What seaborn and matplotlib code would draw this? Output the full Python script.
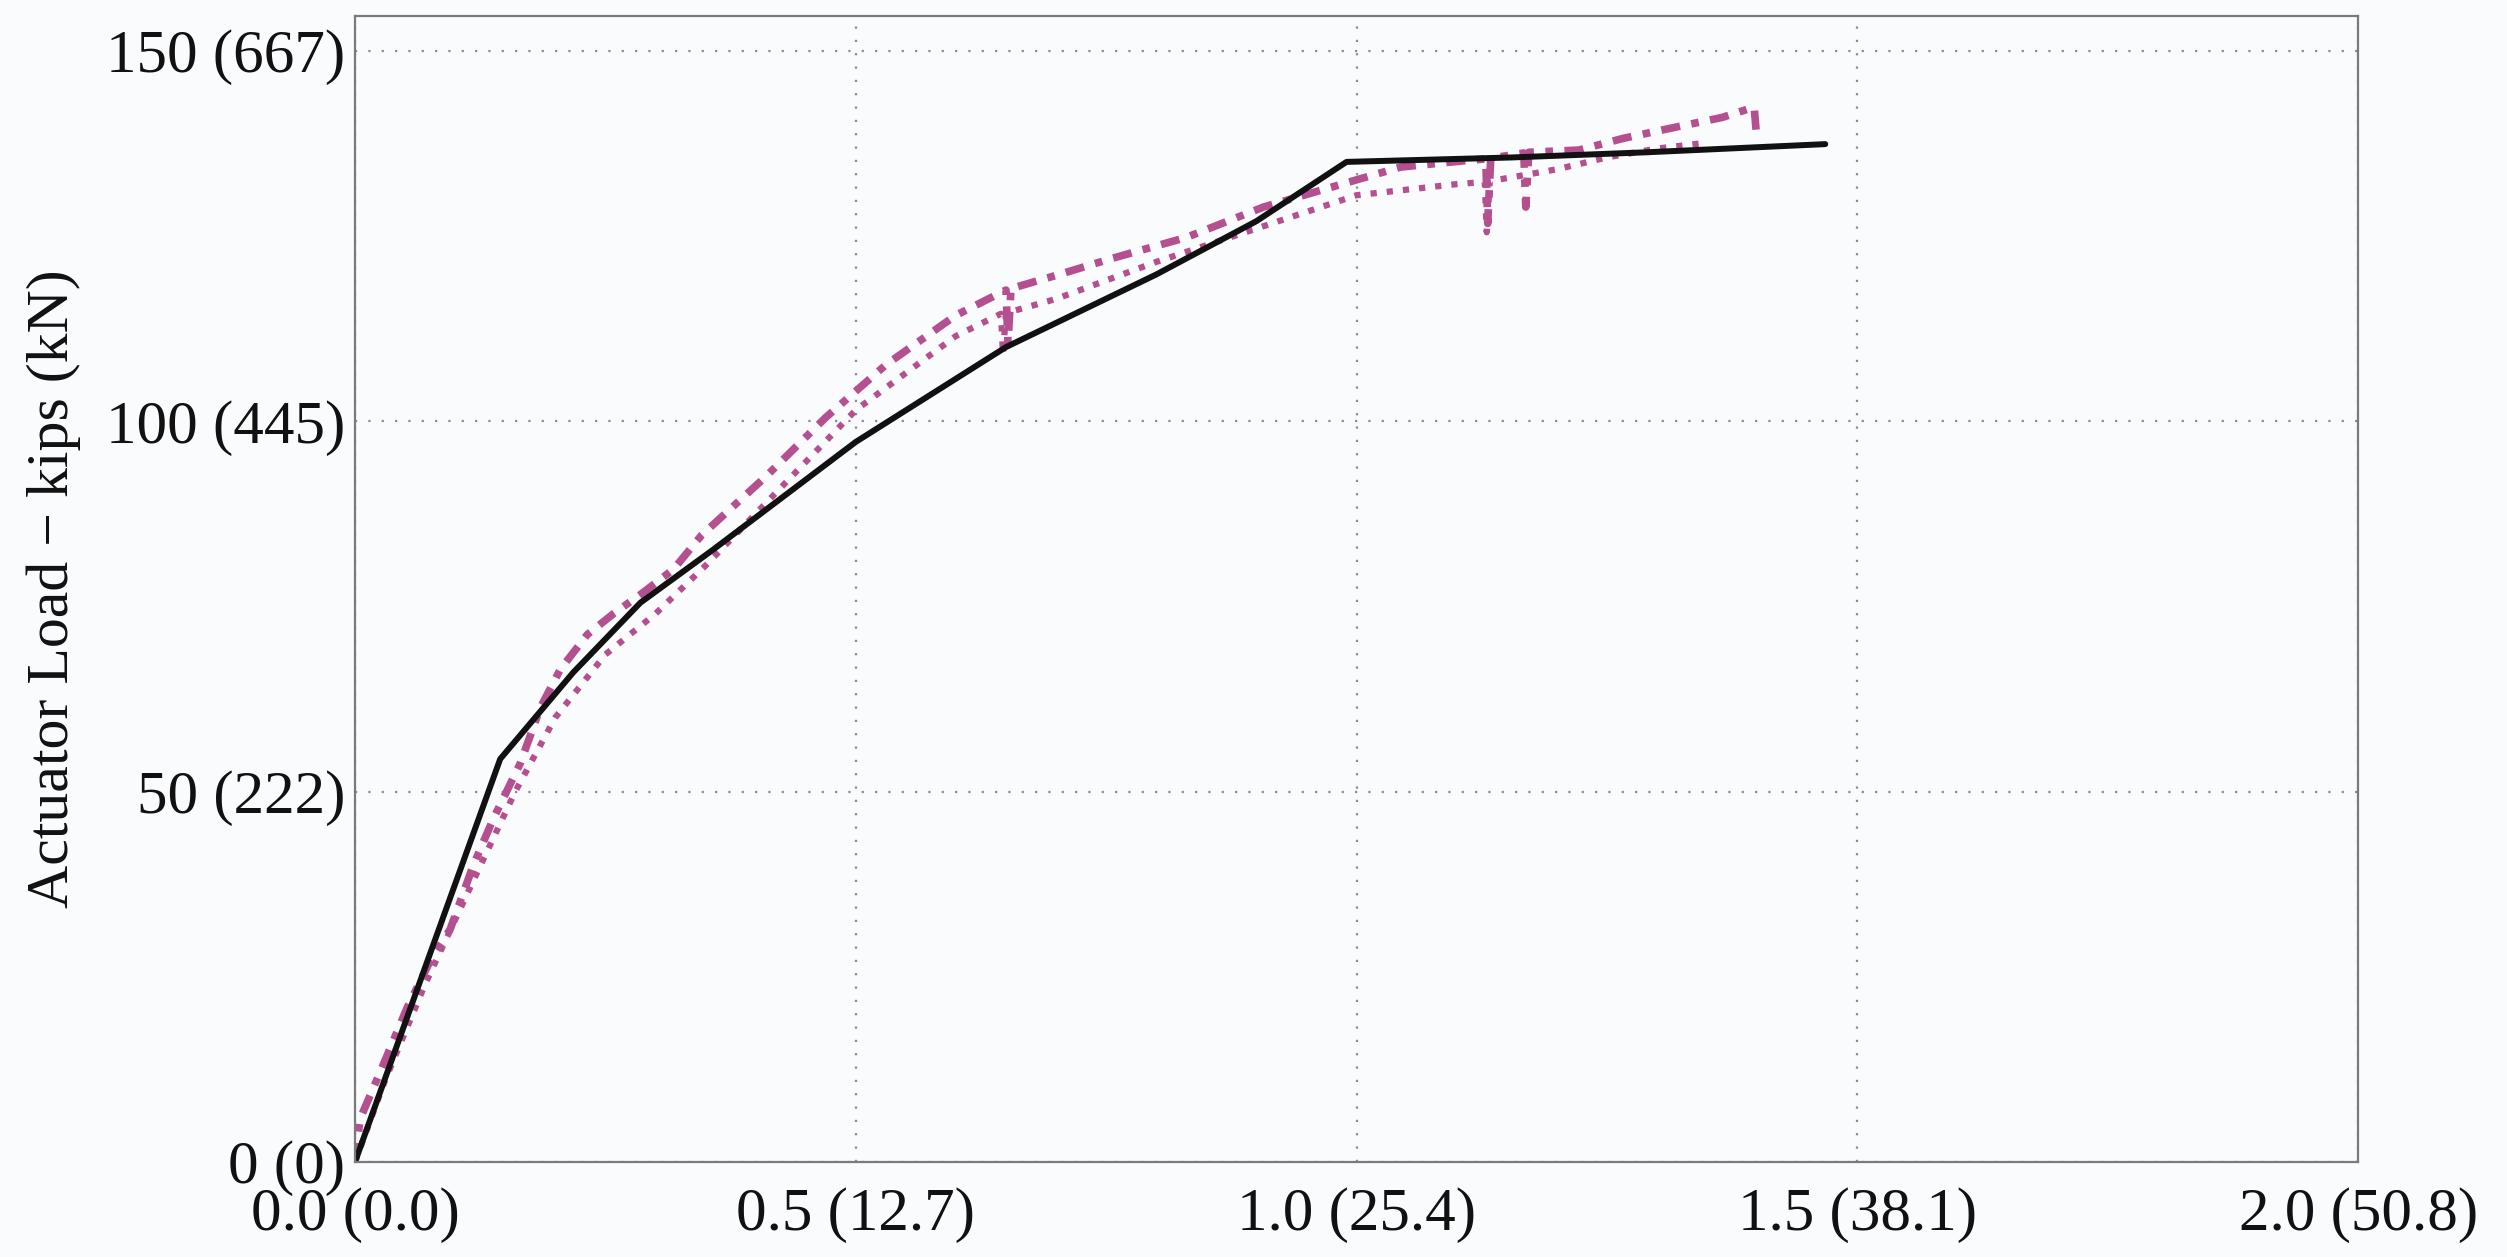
import numpy as np
import pandas as pd
import matplotlib
matplotlib.use("Agg")
import matplotlib.pyplot as plt
import seaborn as sns

# 数据 (kips vs inches)
model_x = [0.0, 0.145, 0.218, 0.285, 0.357, 0.50, 0.65, 0.80, 0.90, 0.99, 1.155, 1.29, 1.468]
model_y = [0.0, 54.4, 66.1, 75.5, 82.6, 97.2, 110.0, 119.8, 127.0, 135.0, 135.6, 136.3, 137.4]

test1_x = [0.0, 0.005, 0.025, 0.052, 0.075, 0.095, 0.118, 0.138, 0.165, 0.185, 0.205, 0.232,
           0.258, 0.285, 0.318, 0.346, 0.41, 0.47, 0.53, 0.60, 0.650, 0.652, 0.655, 0.703,
           0.754, 0.830, 0.907, 0.998, 1.044, 1.111, 1.129, 1.131, 1.134, 1.167, 1.169, 1.172,
           1.222, 1.267, 1.312, 1.365, 1.397, 1.399]
test1_y = [0.0, 5.8, 12.1, 20.8, 27.1, 31.4, 40.0, 46.3, 53.8, 61.3, 66.5, 71.2,
           74.0, 76.6, 80.0, 84.6, 92.5, 100.5, 107.6, 114.3, 117.7, 110.5, 117.9, 119.8,
           121.9, 124.8, 128.9, 132.5, 134.3, 135.2, 135.4, 126.7, 135.5, 136.2, 128.9, 136.3,
           136.6, 138.2, 139.5, 141.0, 142.4, 139.2]

test2_x = [0.0, 0.03, 0.07, 0.12, 0.16, 0.20, 0.25, 0.30, 0.35, 0.40, 0.45, 0.50, 0.55,
           0.60, 0.645, 0.647, 0.650, 0.70, 0.80, 0.90, 1.00, 1.10, 1.128, 1.130, 1.133,
           1.20, 1.25, 1.30, 1.35]
test2_y = [0.0, 11.0, 24.0, 38.5, 50.0, 60.0, 68.5, 74.0, 80.5, 87.5, 94.5, 101.5, 106.5,
           111.5, 114.5, 109.0, 114.6, 116.5, 121.5, 126.0, 130.5, 132.0, 132.3, 125.5, 132.4,
           134.0, 135.6, 136.8, 137.6]

x_ticks = [0.0, 0.5, 1.0, 1.5, 2.0]
x_labels = ["0.0 (0.0)", "0.5 (12.7)", "1.0 (25.4)", "1.5 (38.1)", "2.0 (50.8)"]
y_ticks = [0, 50, 100, 150]
y_labels = ["0 (0)", "50 (222)", "100 (445)", "150 (667)"]

sns.set_style("white")
plt.rcParams['font.family'] = ['Liberation Serif', 'DejaVu Serif']

bg = "#fafbfd"
fig = plt.figure(figsize=(25.07, 12.57), dpi=100, facecolor=bg)
ax = fig.add_axes([0.1416, 0.0756, 0.799, 0.9117])
ax.set_facecolor(bg)

pink = "#b4508f"
df1 = pd.DataFrame({'x': test1_x, 'y': test1_y})
df2 = pd.DataFrame({'x': test2_x, 'y': test2_y})
dfm = pd.DataFrame({'x': model_x, 'y': model_y})
sns.lineplot(data=df2, x='x', y='y', ax=ax, sort=False, estimator=None,
             color=pink, lw=4.5, linestyle=(0, (1, 1.6)))
sns.lineplot(data=df1, x='x', y='y', ax=ax, sort=False, estimator=None,
             color=pink, lw=5.5, linestyle=(0, (2.5, 1.5, 1, 1.5)))
sns.lineplot(data=dfm, x='x', y='y', ax=ax, sort=False, estimator=None,
             color="#111111", lw=4.3)

ax.set_xlim(0, 2.0)
ax.set_ylim(0, 154.7)
ax.set_xticks(x_ticks)
ax.set_xticklabels(x_labels)
ax.set_yticks(y_ticks)
ax.set_yticklabels(y_labels)
ax.grid(True, color="#8a8a9a", linestyle=(0, (1, 5)), linewidth=1.6)
ax.tick_params(axis='both', direction='in', length=8, width=1.2, color="#777777",
               labelsize=44, labelcolor="#111111")
ax.tick_params(axis='x', pad=18)
ax.tick_params(axis='y', pad=7)
for s in ax.spines.values():
    s.set_color("#7a7a7a")
    s.set_linewidth(1.6)

ax.set_xlabel("")
ax.set_ylabel("Actuator Load \u2212 kips (kN)", fontsize=43, color="#111111")
ax.yaxis.set_label_coords(-0.137, 0.5)

fig.savefig("out.png", dpi=100, facecolor=bg)
